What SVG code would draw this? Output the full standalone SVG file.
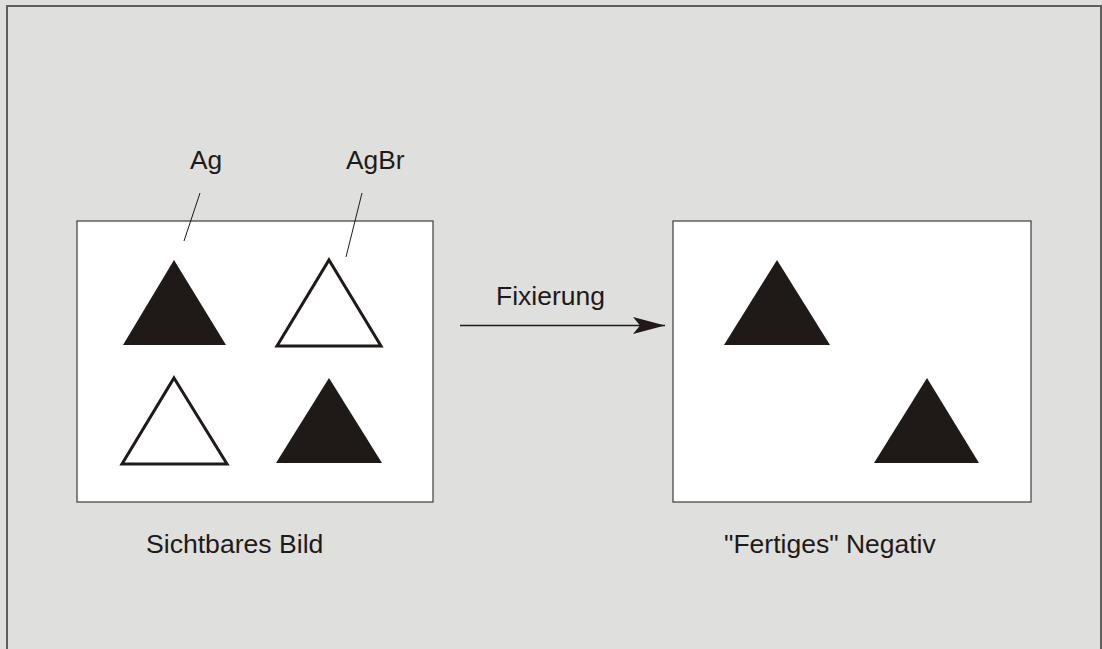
<svg xmlns="http://www.w3.org/2000/svg" width="1102" height="649" viewBox="0 0 1102 649">
<defs>
<style>
.lbl{font-family:"Liberation Sans",Arial,sans-serif;fill:#1f1a17}
.panel{fill:#ffffff;stroke:#4a4a4a;stroke-width:1.3}
.solid{fill:#1f1a17}
.open{fill:#ffffff;stroke:#1f1a17;stroke-width:3;stroke-linejoin:miter}
.lead{stroke:#1f1a17;stroke-width:1;fill:none}
</style>
<marker id="ah" markerUnits="userSpaceOnUse" markerWidth="32" markerHeight="20" refX="32" refY="10" orient="auto">
<path d="M0,1.5 L32,10 L0,18.5 L7,10 Z" fill="#1f1a17"/>
</marker>
</defs>
<rect x="0" y="0" width="1102" height="649" fill="#dfdfdd"/>
<rect x="7" y="6" width="1094" height="660" fill="#dfdfdd" stroke="#5e5e5e" stroke-width="2"/>

<g id="left-panel">
<rect class="panel" x="77" y="221" width="356" height="281"/>
<polygon class="solid" points="174,260 226,345 123,345"/>
<polygon class="open" points="329,260 381,346 277,346"/>
<polygon class="open" points="174,378 227,464 122,464"/>
<polygon class="solid" points="329,378 382,463 276,463"/>
</g>

<g id="right-panel">
<rect class="panel" x="673" y="221" width="358" height="281"/>
<polygon class="solid" points="777,260 830,345 724,345"/>
<polygon class="solid" points="927,378 979,463 874,463"/>
</g>

<g id="label-ag">
<text class="lbl" x="190" y="169" font-size="26.3">Ag</text>
<line class="lead" x1="200" y1="193" x2="184" y2="241"/>
</g>
<g id="label-agbr">
<text class="lbl" x="346" y="169" font-size="26.3">AgBr</text>
<line class="lead" x1="362" y1="193" x2="346" y2="257"/>
</g>

<g id="captions">
<text class="lbl" x="146" y="553" font-size="26.6">Sichtbares Bild</text>
<text class="lbl" x="724" y="553" font-size="26.5">"Fertiges" Negativ</text>
</g>

<g id="connectors">
<line x1="460" y1="325.5" x2="665" y2="325.5" stroke="#1f1a17" stroke-width="1.3" marker-end="url(#ah)"/>
<text class="lbl" x="496" y="305" font-size="26.5">Fixierung</text>
</g>
</svg>
